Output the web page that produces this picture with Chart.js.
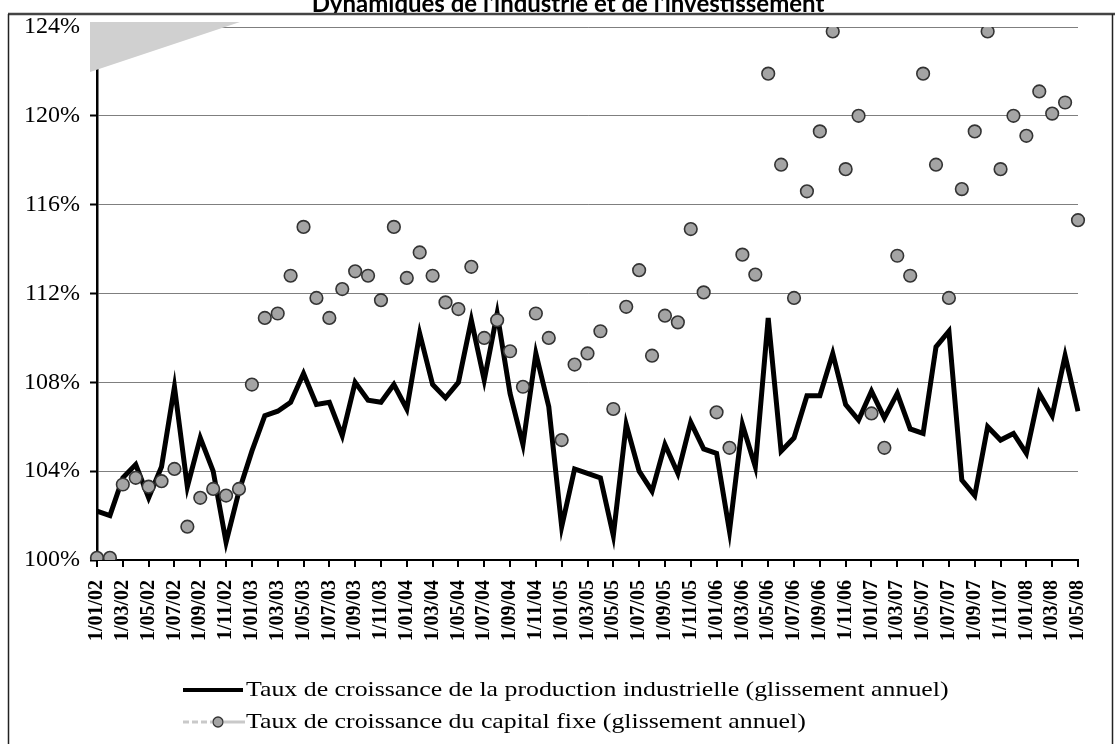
<!DOCTYPE html>
<html>
<head>
<meta charset="utf-8">
<script src="https://cdn.jsdelivr.net/npm/chart.js@4.4.1/dist/chart.umd.min.js"></script>
<style>
html,body{margin:0;padding:0;background:#fff;overflow:hidden}
#wrap{position:relative;width:1115px;height:744px}
</style>
</head>
<body>
<div id="wrap"><canvas id="c" width="1115" height="744"></canvas></div>
<script>
const titleText = "Dynamiques de l'industrie et de l'investissement";

const categories = [
  "1/01/02","1/02/02","1/03/02","1/04/02","1/05/02","1/06/02","1/07/02","1/08/02","1/09/02","1/10/02","1/11/02","1/12/02",
  "1/01/03","1/02/03","1/03/03","1/04/03","1/05/03","1/06/03","1/07/03","1/08/03","1/09/03","1/10/03","1/11/03","1/12/03",
  "1/01/04","1/02/04","1/03/04","1/04/04","1/05/04","1/06/04","1/07/04","1/08/04","1/09/04","1/10/04","1/11/04","1/12/04",
  "1/01/05","1/02/05","1/03/05","1/04/05","1/05/05","1/06/05","1/07/05","1/08/05","1/09/05","1/10/05","1/11/05","1/12/05",
  "1/01/06","1/02/06","1/03/06","1/04/06","1/05/06","1/06/06","1/07/06","1/08/06","1/09/06","1/10/06","1/11/06","1/12/06",
  "1/01/07","1/02/07","1/03/07","1/04/07","1/05/07","1/06/07","1/07/07","1/08/07","1/09/07","1/10/07","1/11/07","1/12/07",
  "1/01/08","1/02/08","1/03/08","1/04/08","1/05/08"
];

const productionIndustrielle = [
  102.2,102.0,103.7,104.3,102.8,104.2,107.8,103.3,105.5,104.0,100.8,103.1,
  104.9,106.5,106.7,107.1,108.4,107.0,107.1,105.6,108.0,107.2,107.1,107.9,
  106.8,110.2,107.9,107.3,108.0,110.8,108.1,111.1,107.5,105.2,109.3,106.9,
  101.5,104.1,103.9,103.7,101.1,106.1,104.0,103.1,105.2,103.9,106.2,105.0,
  104.8,101.3,106.1,104.2,110.9,104.9,105.5,107.4,107.4,109.3,107.0,106.3,
  107.6,106.4,107.5,105.9,105.7,109.6,110.3,103.6,102.9,106.0,105.4,105.7,
  104.8,107.5,106.5,109.2,106.7
];

const capitalFixe = [
  100.1,100.1,103.4,103.7,103.3,103.55,104.1,101.5,102.8,103.2,102.9,103.2,
  107.9,110.9,111.1,112.8,115.0,111.8,110.9,112.2,113.0,112.8,111.7,115.0,
  112.7,113.85,112.8,111.6,111.3,113.2,110.0,110.8,109.4,107.8,111.1,110.0,
  105.4,108.8,109.3,110.3,106.8,111.4,113.05,109.2,111.0,110.7,114.9,112.05,
  106.65,105.05,113.75,112.85,121.9,117.8,111.8,116.6,119.3,123.8,117.6,120.0,
  106.6,105.05,113.7,112.8,121.9,117.8,111.8,116.7,119.3,123.8,117.6,120.0,
  119.1,121.1,120.1,120.6,115.3
];

const yTickValues = [100,104,108,112,116,120,124];

const seriesNames = [
  "Taux de croissance de la production industrielle (glissement annuel)",
  "Taux de croissance du capital fixe (glissement annuel)"
];

const decor = {
  id: 'decor',
  beforeDraw(chart) {
    const ctx = chart.ctx;
    ctx.save();
    ctx.fillStyle = '#ffffff';
    ctx.fillRect(0, 0, chart.width, chart.height);
    ctx.restore();
  },
  afterDraw(chart) {
    const ctx = chart.ctx;
    const a = chart.chartArea;
    // gray scan artifact at top-left of plot
    ctx.save();
    ctx.fillStyle = '#d0d0d0';
    ctx.beginPath();
    ctx.moveTo(a.left - 7, a.top - 5);
    ctx.lineTo(a.left + 143, a.top - 5);
    ctx.lineTo(a.left - 7, a.top + 45);
    ctx.closePath();
    ctx.fill();
    ctx.restore();

    // title (cut at the top)
    ctx.save();
    ctx.beginPath();
    ctx.rect(0, 0, chart.width, 13);
    ctx.clip();
    ctx.fillStyle = '#000';
    ctx.font = 'bold 24px Lato';
    ctx.textAlign = 'center';
    ctx.textBaseline = 'alphabetic';
    ctx.fillText(titleText, 568, 12);
    ctx.restore();

    // frame
    ctx.save();
    ctx.strokeStyle = '#444';
    ctx.lineWidth = 2.5;
    ctx.beginPath();
    ctx.moveTo(8, 14); ctx.lineTo(chart.width, 14);
    ctx.stroke();
    ctx.lineWidth = 1.5;
    ctx.strokeStyle = '#222';
    ctx.beginPath();
    ctx.moveTo(8.5, 14); ctx.lineTo(8.5, chart.height);
    ctx.moveTo(1112.5, 14); ctx.lineTo(1112.5, chart.height);
    ctx.stroke();
    ctx.restore();

    // legend
    const ds = chart.data.datasets;
    const ys = [690, 722];
    ctx.save();
    ctx.strokeStyle = ds[0].borderColor;
    ctx.lineWidth = 4;
    ctx.beginPath();
    ctx.moveTo(183, ys[0]); ctx.lineTo(243, ys[0]);
    ctx.stroke();
    ctx.strokeStyle = '#c9c9c9';
    ctx.lineWidth = 3;
    ctx.setLineDash([6, 3]);
    ctx.beginPath();
    ctx.moveTo(183, ys[1]); ctx.lineTo(212, ys[1]);
    ctx.stroke();
    ctx.setLineDash([]);
    ctx.beginPath();
    ctx.moveTo(224, ys[1]); ctx.lineTo(245, ys[1]);
    ctx.stroke();
    ctx.beginPath();
    ctx.arc(218, ys[1], 5, 0, Math.PI * 2);
    ctx.fillStyle = ds[1].pointBackgroundColor;
    ctx.fill();
    ctx.strokeStyle = ds[1].pointBorderColor;
    ctx.lineWidth = 1.3;
    ctx.stroke();
    ctx.fillStyle = '#000';
    ctx.font = '21px "Liberation Serif"';
    ctx.textBaseline = 'middle';
    ctx.textAlign = 'left';
    for (let i = 0; i < 2; i++) {
      ctx.save();
      ctx.translate(246, ys[i]);
      ctx.scale(1.23, 1);
      ctx.fillText(ds[i].label, 0, 0);
      ctx.restore();
    }
    ctx.restore();
  }
};

new Chart(document.getElementById('c'), {
  type: 'line',
  data: {
    labels: categories,
    datasets: [
      {
        label: seriesNames[0],
        data: productionIndustrielle,
        borderColor: '#000000',
        borderWidth: 5,
        borderJoinStyle: 'miter',
        pointRadius: 0,
        tension: 0,
        fill: false,
        order: 2
      },
      {
        label: seriesNames[1],
        data: capitalFixe,
        showLine: false,
        pointRadius: 6.3,
        pointBackgroundColor: '#a4a4a4',
        pointBorderColor: '#333333',
        pointBorderWidth: 1.6,
        pointStyle: 'circle',
        order: 1
      }
    ]
  },
  options: {
    responsive: false,
    animation: false,
    events: [],
    layout: { padding: { left: 0, right: 32, top: 27, bottom: 0 } },
    plugins: {
      legend: { display: false },
      title: { display: false },
      tooltip: { enabled: false }
    },
    scales: {
      x: {
        type: 'category',
        offset: false,
        afterFit(s) { s.height = 184; },
        grid: {
          display: true,
          drawOnChartArea: false,
          drawTicks: true,
          tickLength: 7,
          lineWidth: 2,
          color: (c) => (c.index % 2 === 0 ? '#000000' : 'rgba(0,0,0,0)')
        },
        border: { display: true, color: '#000', width: 2 },
        ticks: {
          autoSkip: false,
          maxRotation: 90,
          minRotation: 90,
          padding: 13,
          color: '#000',
          font: { family: '"Liberation Serif", "Times New Roman", serif', size: 20, weight: 'bold' },
          callback: (v, i) => (i % 2 === 0 ? categories[i] : '')
        }
      },
      y: {
        min: 100,
        max: 124,
        afterFit(s) { s.width = 97; },
        afterBuildTicks(s) { s.ticks = yTickValues.map(v => ({ value: v })); },
        grid: {
          color: 'rgba(0,0,0,0.5)',
          lineWidth: 1,
          tickLength: 7,
          tickColor: '#000',
          tickWidth: 2
        },
        border: { display: true, color: '#000', width: 2.5 },
        ticks: {
          padding: 10,
          color: '#000',
          font: { family: '"Liberation Serif", "Times New Roman", serif', size: 24 },
          callback: (v) => v + '%'
        }
      }
    }
  },
  plugins: [decor]
});
</script>
</body>
</html>
